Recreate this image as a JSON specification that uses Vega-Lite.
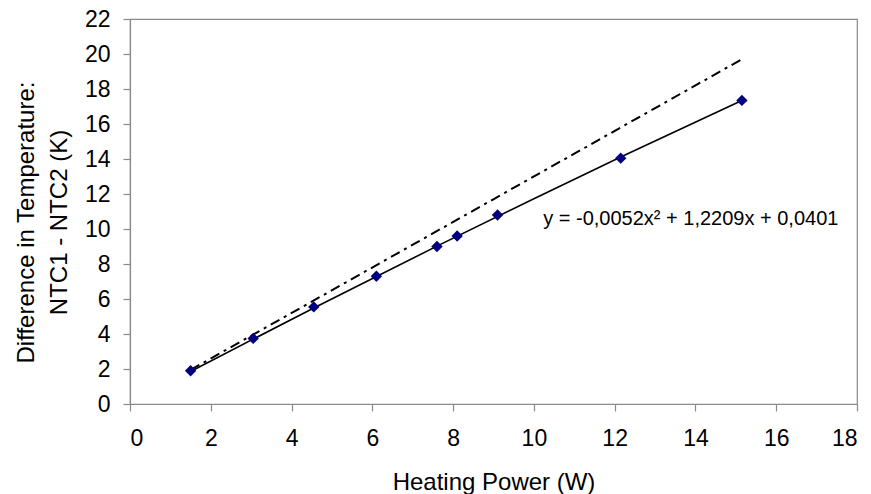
{
  "$schema": "https://vega.github.io/schema/vega-lite/v6.json",
  "width": 727,
  "height": 385,
  "autosize": {"type": "none"},
  "padding": {"left": 130, "top": 19, "right": 14, "bottom": 90},
  "background": "white",
  "config": {
    "font": "Liberation Sans",
    "view": {"stroke": "#8a8a8a", "strokeWidth": 1.2},
    "axis": {
      "grid": false,
      "domainColor": "#8a8a8a",
      "domainWidth": 1.2,
      "tickColor": "#8a8a8a",
      "tickSize": 7,
      "tickWidth": 1.2,
      "labelFont": "Liberation Sans",
      "labelFontSize": 23,
      "labelColor": "#000000",
      "titleFont": "Liberation Sans",
      "titleFontSize": 24,
      "titleFontWeight": "normal",
      "titleColor": "#000000"
    }
  },
  "datasets": {
    "measured": [
      {"power": 1.5, "diff": 1.9},
      {"power": 3.05, "diff": 3.75},
      {"power": 4.55, "diff": 5.55},
      {"power": 6.1, "diff": 7.3},
      {"power": 7.6, "diff": 9.0},
      {"power": 8.1, "diff": 9.6},
      {"power": 9.1, "diff": 10.8},
      {"power": 12.15, "diff": 14.05},
      {"power": 15.15, "diff": 17.35}
    ],
    "trend": [
      {"power": 1.5, "diff": 1.86},
      {"power": 4.55, "diff": 5.49},
      {"power": 7.6, "diff": 9.02},
      {"power": 10.0, "diff": 11.73},
      {"power": 12.15, "diff": 14.11},
      {"power": 15.15, "diff": 17.34}
    ],
    "reference": [
      {"power": 1.5, "diff": 1.95},
      {"power": 15.15, "diff": 19.7}
    ],
    "equation": [
      {"power": 10.23, "diff": 10.55, "label": "y = -0,0052x² + 1,2209x + 0,0401"}
    ]
  },
  "encoding": {
    "x": {
      "field": "power",
      "type": "quantitative",
      "scale": {"domain": [0, 18], "nice": false},
      "axis": {
        "values": [0, 2, 4, 6, 8, 10, 12, 14, 16, 18],
        "title": "Heating Power (W)",
        "labelPadding": 16,
        "titleY": 85,
        "titleBaseline": "alphabetic"
      }
    },
    "y": {
      "field": "diff",
      "type": "quantitative",
      "scale": {"domain": [0, 22], "nice": false},
      "axis": {
        "values": [0, 2, 4, 6, 8, 10, 12, 14, 16, 18, 20, 22],
        "title": ["Difference in Temperature:", "NTC1 - NTC2 (K)"],
        "titleFontSize": 24,
        "titleLineHeight": 33,
        "labelPadding": 13,
        "titleX": -104,
        "titleY": 203,
        "titleBaseline": "middle",
        "titleAngle": -90
      }
    }
  },
  "layer": [
    {
      "data": {"name": "reference"},
      "mark": {"type": "line", "color": "#000000", "strokeWidth": 2, "strokeDash": [10, 5, 3, 5]}
    },
    {
      "data": {"name": "trend"},
      "mark": {"type": "line", "color": "#000000", "strokeWidth": 1.6, "interpolate": "monotone"}
    },
    {
      "data": {"name": "measured"},
      "mark": {"type": "point", "shape": "diamond", "filled": true, "color": "#000080", "opacity": 1, "size": 130}
    },
    {
      "data": {"name": "equation"},
      "mark": {"type": "text", "align": "left", "baseline": "middle", "fontSize": 20, "color": "#000000", "font": "Liberation Sans"},
      "encoding": {"text": {"field": "label"}}
    }
  ]
}
